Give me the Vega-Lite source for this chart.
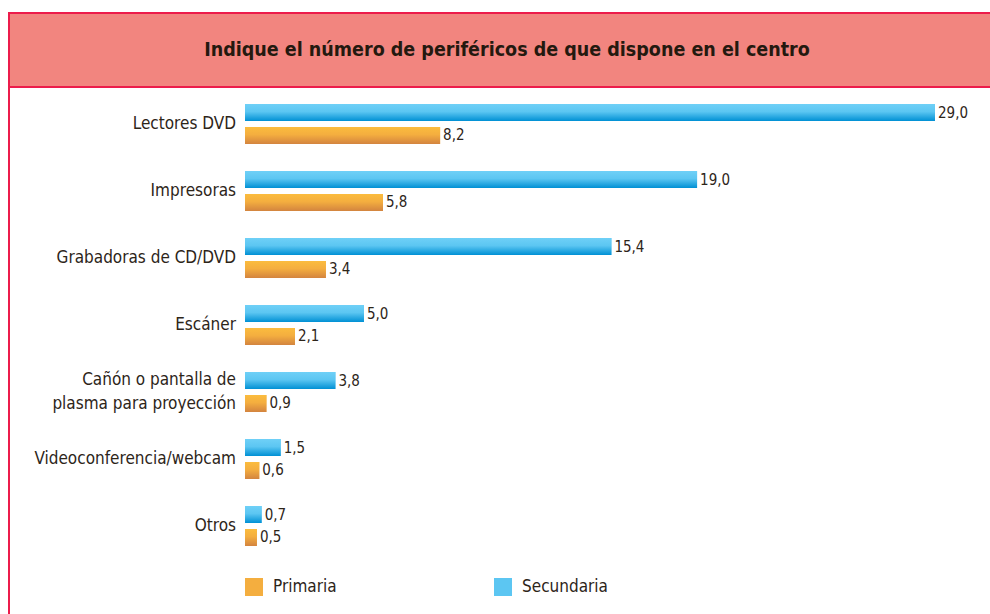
{
  "$schema": "https://vega.github.io/schema/vega-lite/v6.json",
  "padding": {"left": 8, "top": 12, "right": 0, "bottom": 0},
  "background": "white",
  "spacing": 0,
  "bounds": "flush",
  "config": {
    "locale": {"number": {"decimal": ",", "thousands": ".", "grouping": [3], "currency": ["", " €"]}},
    "view": {"stroke": "#ec1c4b", "strokeWidth": 2},
    "font": "DejaVu Sans Condensed, sans-serif"
  },
  "vconcat": [
    {
      "width": 990,
      "height": 74,
      "view": {"fill": "#f2857f", "stroke": "#ec1c4b", "strokeWidth": 2},
      "data": {"values": [{"t": "Indique el número de periféricos de que dispone en el centro"}]},
      "mark": {"type": "text", "fontWeight": "bold", "fontSize": 19.5, "color": "#24190f", "dx": 3},
      "encoding": {"text": {"field": "t", "type": "nominal"}}
    },
    {
      "width": 990,
      "height": 540,
      "view": {"fill": "white", "stroke": "#ec1c4b", "strokeWidth": 2},
      "data": {"values": [
        {"categoria": "Lectores DVD", "nivel": "Secundaria", "valor": 29.0},
        {"categoria": "Lectores DVD", "nivel": "Primaria", "valor": 8.2},
        {"categoria": "Impresoras", "nivel": "Secundaria", "valor": 19.0},
        {"categoria": "Impresoras", "nivel": "Primaria", "valor": 5.8},
        {"categoria": "Grabadoras de CD/DVD", "nivel": "Secundaria", "valor": 15.4},
        {"categoria": "Grabadoras de CD/DVD", "nivel": "Primaria", "valor": 3.4},
        {"categoria": "Escáner", "nivel": "Secundaria", "valor": 5.0},
        {"categoria": "Escáner", "nivel": "Primaria", "valor": 2.1},
        {"categoria": "Cañón o pantalla de\nplasma para proyección", "nivel": "Secundaria", "valor": 3.8},
        {"categoria": "Cañón o pantalla de\nplasma para proyección", "nivel": "Primaria", "valor": 0.9},
        {"categoria": "Videoconferencia/webcam", "nivel": "Secundaria", "valor": 1.5},
        {"categoria": "Videoconferencia/webcam", "nivel": "Primaria", "valor": 0.6},
        {"categoria": "Otros", "nivel": "Secundaria", "valor": 0.7},
        {"categoria": "Otros", "nivel": "Primaria", "valor": 0.5}
      ]},
      "encoding": {
        "y": {"field": "categoria", "type": "nominal", "sort": null, "axis": null,
              "scale": {"range": [3.5, 472.5], "paddingInner": 0, "paddingOuter": 0}}
      },
      "layer": [
        {
          "mark": {"type": "bar"},
          "encoding": {
            "x": {"field": "valor", "type": "quantitative", "axis": null,
                  "scale": {"domain": [-9.919, 31.69], "nice": false, "zero": false}},
            "x2": {"datum": 0},
            "yOffset": {"field": "nivel", "type": "nominal",
                        "scale": {"domain": ["Secundaria", "Primaria"], "paddingInner": 0.2609, "paddingOuter": 0.587}},
            "fill": {"field": "nivel", "type": "nominal",
              "scale": {"domain": ["Primaria", "Secundaria"], "range": ["#f4ae3f", "#5cc6f2"]},
              "legend": {"orient": "none", "legendX": 236, "legendY": 565, "direction": "horizontal", "columns": 2,
                         "columnPadding": 157, "symbolType": "square", "symbolSize": 324, "symbolStrokeWidth": 0,
                         "symbolOpacity": 1,
                         "labelFontSize": 17, "labelOffset": 10, "labelColor": "#2d2519", "title": null, "padding": 0, "labelLimit": 400}
            }
          }
        },
        {
          "mark": {"type": "bar"},
          "encoding": {
            "x": {"field": "valor", "type": "quantitative"},
            "x2": {"datum": 0},
            "yOffset": {"field": "nivel", "type": "nominal"},
            "fill": {
              "condition": {"test": "datum.nivel === 'Primaria'", "value":
                {"gradient": "linear", "x1": 0, "y1": 0, "x2": 0, "y2": 1, "stops": [
                  {"offset": 0, "color": "#fbbc3e"}, {"offset": 0.45, "color": "#f4ae3f"}, {"offset": 1, "color": "#d3843f"}]}},
              "value": {"gradient": "linear", "x1": 0, "y1": 0, "x2": 0, "y2": 1, "stops": [
                  {"offset": 0, "color": "#6fd0f7"}, {"offset": 0.45, "color": "#5cc6f2"}, {"offset": 1, "color": "#0090d4"}]}
            }
          }
        },
        {
          "mark": {"type": "text", "align": "left", "dx": 3, "fontSize": 15, "color": "#2d2519"},
          "encoding": {
            "x": {"field": "valor", "type": "quantitative"},
            "yOffset": {"field": "nivel", "type": "nominal"},
            "text": {"field": "valor", "type": "quantitative", "format": ".1f"}
          }
        },
        {
          "transform": [{"filter": {"and": [
            {"field": "nivel", "equal": "Secundaria"},
            {"not": {"field": "categoria", "equal": "Cañón o pantalla de\nplasma para proyección"}}]}}],
          "mark": {"type": "text", "align": "right", "dx": -9, "fontSize": 17, "color": "#2d2519"},
          "encoding": {
            "x": {"datum": 0, "type": "quantitative"},
            "text": {"field": "categoria", "type": "nominal"}
          }
        },
        {
          "transform": [{"filter": {"and": [
            {"field": "nivel", "equal": "Secundaria"},
            {"field": "categoria", "equal": "Cañón o pantalla de\nplasma para proyección"}]}}],
          "mark": {"type": "text", "align": "right", "dx": -9, "dy": -12, "fontSize": 17, "lineBreak": "\n", "lineHeight": 24, "color": "#2d2519"},
          "encoding": {
            "x": {"datum": 0, "type": "quantitative"},
            "text": {"field": "categoria", "type": "nominal"}
          }
        }
      ]
    }
  ]
}
